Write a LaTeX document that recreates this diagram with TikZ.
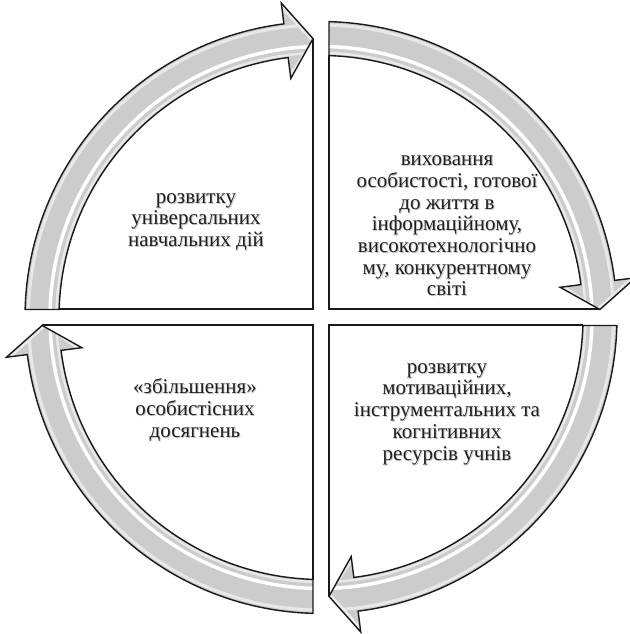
\documentclass[tikz,border=0pt]{standalone}
\usepackage{fontspec}
\setmainfont{Liberation Serif}
\definecolor{ringgray}{RGB}{204,204,204}
\definecolor{linecol}{RGB}{25,25,25}
\tikzset{
  ringarrow/.style={draw=black!90, line width=1.4pt, line join=miter},
  quadline/.style={draw=linecol, line width=2pt},
  lbl/.style={align=center, font=\fontsize{21}{21.7}\selectfont, text=black!88, inner sep=0pt},
  shadowlbl/.style={lbl, text=black!22},
}
\begin{document}
\begin{tikzpicture}[x=1pt,y=1pt]
\useasboundingbox (-321,-316.5) rectangle (308,317.5);
\foreach \r in {0,-90,-180,-270} {
  \begin{scope}[rotate=\r]
    \draw[quadline] (-262,8) -- (-8,8) -- (-8,278.9);
    \begin{scope}
      \clip (178.45:296) arc[start angle=178.45, end angle=97.2, radius=296] -- (97.2:317) -- (91.64:279) -- (97.2:241) -- (97.2:262) arc[start angle=97.2, end angle=178.25, radius=262] -- cycle;
      \fill[ringgray] (0,0) circle (330);
      \draw[white, line width=3.5pt] (0,0) circle (271);
      \draw[white!55!ringgray, line width=3pt] (0,0) circle (292.5);
      \draw[white!55!ringgray, line width=2.5pt] (0,0) circle (264.5);
      \draw[white!60!ringgray, line width=2.5pt] (97.2:313) -- (91.64:276) -- (97.2:245);
    \end{scope}
    \draw[ringarrow] (178.45:296) arc[start angle=178.45, end angle=97.2, radius=296] -- (97.2:317) -- (91.64:279) -- (97.2:241) -- (97.2:262) arc[start angle=97.2, end angle=178.25, radius=262] -- cycle;
  \end{scope}
}
\node[shadowlbl] (tls) at (-124,94.5) {розвитку\\універсальних\\навчальних дій};
\node[lbl] (tl) at (-125,95.5) {розвитку\\універсальних\\навчальних дій};
\node[shadowlbl] (trs) at (127,90.5) {виховання\\особистості, готової\\до життя в\\інформаційному,\\високотехнологічно\\му, конкурентному\\світі};
\node[lbl] (tr) at (126,91.5) {виховання\\особистості, готової\\до життя в\\інформаційному,\\високотехнологічно\\му, конкурентному\\світі};
\node[shadowlbl] (brs) at (127,-97.5) {розвитку\\мотиваційних,\\інструментальних та\\когнітивних\\ресурсів учнів};
\node[lbl] (br) at (126,-96.5) {розвитку\\мотиваційних,\\інструментальних та\\когнітивних\\ресурсів учнів};
\node[shadowlbl] (bls) at (-125,-93.5) {«збільшення»\\особистісних\\досягнень};
\node[lbl] (bl) at (-126,-92.5) {«збільшення»\\особистісних\\досягнень};
\end{tikzpicture}
\end{document}
